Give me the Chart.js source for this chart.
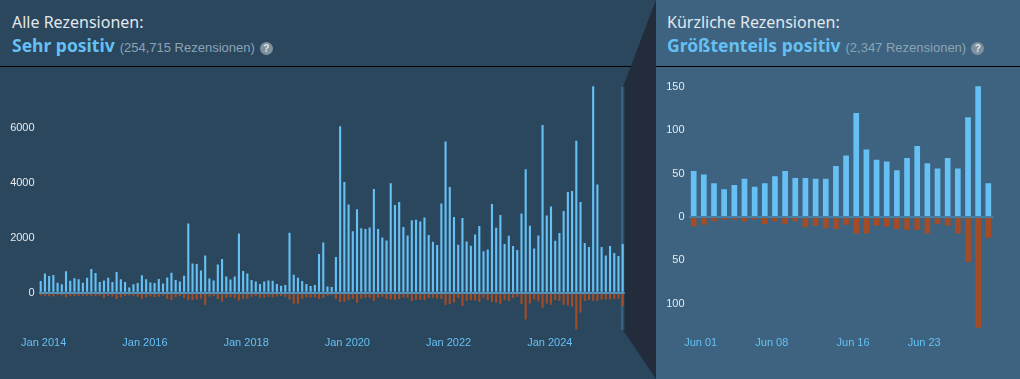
<!DOCTYPE html>
<html>
<head>
<meta charset="utf-8">
<script src="https://cdn.jsdelivr.net/npm/chart.js@4.4.0/dist/chart.umd.min.js"></script>
<style>
  body { margin: 0; width: 1020px; height: 379px; overflow: hidden; background: #2a475e; }
  #leftPanel { position: absolute; left: 0; top: 0; width: 656px; height: 379px; background: #2a475e; }
  #rightPanel { position: absolute; left: 656px; top: 0; width: 364px; height: 379px; background: #3d6380; }
  #deco { position: absolute; left: 0; top: 0; }
  .title { position: absolute; font-family: "Noto Sans", sans-serif; font-size: 16px; line-height: 16px; color: #e2e8ed; }
  .rating { position: absolute; line-height: 17px; white-space: nowrap; }
  .rating b { font-family: "Noto Sans", sans-serif; font-size: 17.5px; font-weight: bold; color: #66c0f4; }
  .rating span.count { font-family: "Liberation Sans", Arial, sans-serif; font-size: 13px; color: #8ca3b5; margin-left: 5px; }
  .rating span.help { display: inline-block; width: 13px; height: 13px; border-radius: 7px; background: #7f919f;
    color: #dfe6ec; font: bold 10px/13px "Liberation Sans", Arial, sans-serif; text-align: center; margin-left: 5px;
    vertical-align: 0px; }
  canvas { position: absolute; }
</style>
</head>
<body>
<div id="leftPanel"></div>
<div id="rightPanel"></div>
<svg id="deco" width="1020" height="379">
  <polygon points="656,0 623,87 623,330 656,379" fill="#222c3b"/>
  <line x1="0" y1="66.5" x2="631" y2="66.5" stroke="#000" stroke-width="1"/>
  <line x1="656" y1="66.5" x2="1020" y2="66.5" stroke="#000" stroke-width="1"/>
</svg>
<div class="title" style="left:12px; top:14px;">Alle Rezensionen:</div>
<div class="rating" style="left:12px; top:37px;"><b>Sehr positiv</b><span class="count">(254,715 Rezensionen)</span><span class="help">?</span></div>
<div class="title" style="left:667px; top:14px;">Kürzliche Rezensionen:</div>
<div class="rating" style="left:667px; top:37px;"><b>Größtenteils positiv</b><span class="count">(2,347 Rezensionen)</span><span class="help">?</span></div>

<canvas id="allChart" width="626" height="312" style="left:0; top:67px;"></canvas>
<canvas id="recentChart" width="364" height="312" style="left:656px; top:67px;"></canvas>

<script>
// monthly reviews, Jan 2014 .. Jul 2025
const monthNames = ['Jan', 'Feb', 'Mär', 'Apr', 'Mai', 'Jun', 'Jul', 'Aug', 'Sep', 'Okt', 'Nov', 'Dez'];
const years = [2014, 2015, 2016, 2017, 2018, 2019, 2020, 2021, 2022, 2023, 2024, 2025];
const monthLabels = [];
years.forEach(y => monthNames.forEach(m => monthLabels.push(m + ' ' + y)));
monthLabels.length = 139;

const monthlyUp = [
  430, 700, 610, 645, 360, 310, 785, 435, 530, 495, 360, 545,
  860, 715, 390, 445, 545, 390, 755, 490, 395, 190, 305, 350,
  640, 495, 375, 350, 497, 339, 558, 727, 461, 412, 618, 2521,
  1067, 1042, 812, 1358, 521, 448, 1030, 1224, 594, 485, 594, 2150,
  788, 703, 461, 412, 315, 412, 448, 436, 315, 255, 279, 2182,
  655, 545, 424, 315, 242, 279, 1406, 1830, 230, 206, 1297, 6050,
  4030, 3210, 2235, 3035, 2345, 2315, 2376, 3775, 2315, 2005, 1900, 3980,
  3188, 3300, 2388, 2080, 2636, 2650, 2594, 2733, 2097, 1855, 1733, 3248,
  5497, 3842, 2752, 1745, 2715, 1867, 1709, 2121, 2424, 1510, 1576, 3224,
  2364, 2824, 1770, 2073, 1700, 1550, 2880, 4490, 2436, 1605, 2085, 6100,
  2812, 3140, 1891, 2170, 2970, 3661, 3697, 5527, 3300, 1806, 1661, 7503,
  3939, 1661, 1350, 1697, 1442, 1333, 1770
];
const monthlyDown = [
  100, 120, 130, 130, 90, 100, 160, 120, 120, 110, 120, 110,
  120, 130, 110, 180, 120, 140, 230, 160, 120, 100, 110, 150,
  220, 160, 130, 160, 150, 100, 218, 267, 158, 121, 194, 267,
  267, 242, 206, 436, 133, 121, 230, 327, 182, 158, 194, 280,
  230, 206, 145, 121, 182, 170, 150, 160, 135, 120, 145, 242,
  400, 400, 218, 170, 170, 170, 218, 194, 110, 85, 230, 340,
  327, 267, 218, 364, 218, 182, 194, 291, 182, 150, 230, 242,
  255, 230, 170, 182, 303, 255, 255, 267, 194, 182, 206, 230,
  448, 412, 352, 194, 485, 291, 267, 279, 327, 170, 267, 340,
  364, 400, 260, 303, 194, 145, 412, 970, 388, 242, 315, 545,
  388, 436, 267, 303, 436, 460, 509, 1340, 720, 303, 267, 291,
  291, 242, 242, 242, 230, 218, 480
];
const allTickLabels = ['Jan 2014', 'Jan 2016', 'Jan 2018', 'Jan 2020', 'Jan 2022', 'Jan 2024'];
const allYTicks = [0, 2000, 4000, 6000];

// daily reviews, last 30 days
const dayLabels = [];
for (let d = 1; d <= 30; d++) dayLabels.push('Jun ' + String(d).padStart(2, '0'));
const dailyUp = [53, 49, 39, 32, 37, 44, 35, 39, 47, 53, 45, 45, 44, 44, 59,
  71, 120, 78, 66, 64, 54, 68, 82, 62, 56, 68, 56, 115, 151, 39];
const dailyDown = [11, 9, 5, 3, 3, 5, 3, 8, 5, 8, 5, 12, 10, 13, 14,
  9, 19, 19, 10, 11, 14, 15, 15, 19, 8, 10, 19, 52, 128, 24];
const recentTickLabels = ['Jun 01', 'Jun 08', 'Jun 16', 'Jun 23'];
const recentYTicks = [-100, -50, 0, 50, 100, 150];

const BLUE = '#66c0f4';
const RED = '#a34c25';
const tickFont = { family: '"Liberation Sans", Arial, sans-serif', size: 11 };

// faint band over the last month (the "recent" window)
const recentBand = {
  id: 'recentBand',
  beforeDatasetsDraw(chart) {
    const x = chart.scales.x.getPixelForValue(monthLabels.length - 1);
    const a = chart.chartArea;
    const ctx = chart.ctx;
    ctx.save();
    ctx.fillStyle = 'rgba(102, 192, 244, 0.22)';
    ctx.fillRect(x - 1.8, a.top + 14, 3.6, a.bottom - a.top - 18);
    ctx.restore();
  }
};

function makeChart(id, opts) {
  return new Chart(document.getElementById(id), {
    type: 'bar',
    data: {
      labels: opts.labels,
      datasets: [
        { data: opts.up, backgroundColor: BLUE, borderWidth: 0,
          barPercentage: opts.barPct, categoryPercentage: 1 },
        { data: opts.down.map(v => -v), backgroundColor: RED, borderWidth: 0,
          barPercentage: opts.barPct, categoryPercentage: 1 }
      ]
    },
    options: {
      responsive: false,
      devicePixelRatio: 1,
      animation: false,
      layout: { padding: opts.padding },
      plugins: { legend: { display: false }, tooltip: { enabled: false } },
      scales: {
        x: {
          stacked: true,
          grid: { display: false, drawTicks: false },
          border: { display: false },
          afterFit(axis) {
            axis.height = opts.xHeight;
            axis.paddingLeft = 0;
            axis.paddingRight = 0;
          },
          ticks: {
            autoSkip: false, maxRotation: 0, minRotation: 0,
            padding: 2, labelOffset: opts.labelOffset,
            color: BLUE, font: tickFont,
            callback(val) {
              const lab = this.getLabelForValue(val);
              return opts.shownTicks.includes(lab) ? lab : '';
            }
          }
        },
        y: {
          stacked: true,
          min: opts.min, max: opts.max,
          afterFit(axis) {
            axis.width = opts.yWidth;
            axis.paddingTop = 0;
            axis.paddingBottom = 0;
          },
          afterBuildTicks(axis) { axis.ticks = opts.yTicks.map(v => ({ value: v })); },
          grid: {
            drawTicks: false,
            lineWidth: 2,
            color: c => c.tick && c.tick.value === 0 ? opts.zeroColor : 'transparent'
          },
          border: { display: false },
          ticks: {
            padding: 4, color: '#e6eaee', font: tickFont,
            callback: v => String(Math.abs(v))
          }
        }
      }
    },
    plugins: opts.plugins || []
  });
}

makeChart('allChart', {
  labels: monthLabels, up: monthlyUp, down: monthlyDown,
  shownTicks: allTickLabels, yTicks: allYTicks,
  min: -1500, max: 8000, barPct: 0.5,
  padding: { top: 5.7, right: 1.2, left: 0, bottom: 0 },
  yWidth: 38.6, xHeight: 45, labelOffset: 3,
  zeroColor: 'rgba(102, 192, 244, 0.65)',
  plugins: [recentBand]
});

makeChart('recentChart', {
  labels: dayLabels, up: dailyUp, down: dailyDown,
  shownTicks: recentTickLabels, yTicks: recentYTicks,
  min: -135, max: 160, barPct: 0.56,
  padding: { top: 11.4, right: 26.6, left: 0, bottom: 0 },
  yWidth: 32.6, xHeight: 45.1, labelOffset: 7,
  zeroColor: 'rgba(102, 192, 244, 0.3)'
});
</script>
</body>
</html>
